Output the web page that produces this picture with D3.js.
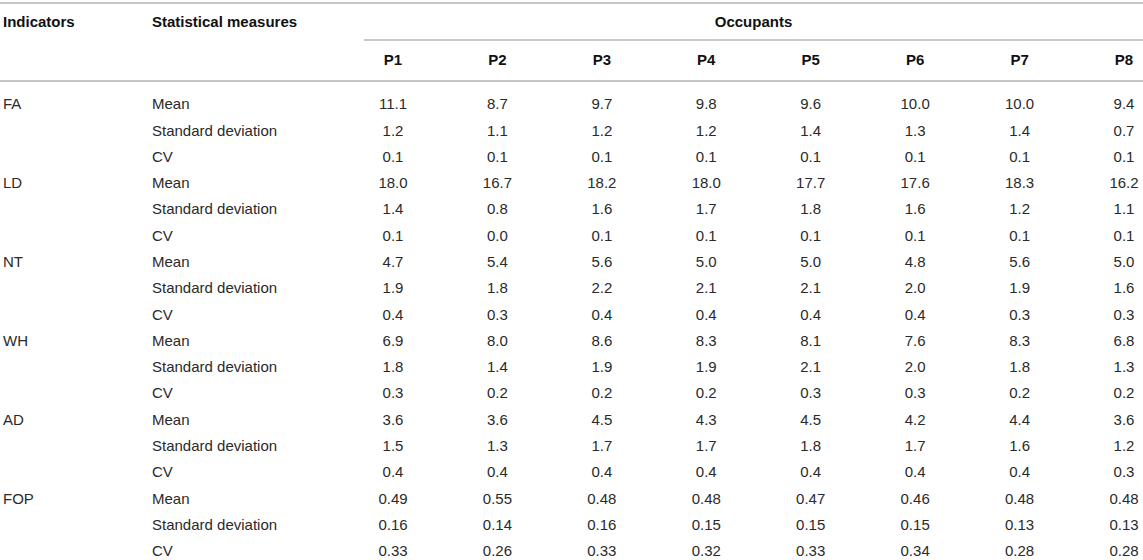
<!DOCTYPE html>
<html>
<head>
<meta charset="utf-8">
<script src="https://cdn.jsdelivr.net/npm/d3@7"></script>
<style>
  body { margin: 0; background: #fff; }
  svg text { font-family: "Liberation Sans", Arial, Helvetica, sans-serif; font-size: 15px; }
</style>
</head>
<body>
<svg id="chart" width="1143" height="560"></svg>
<script>
// table values
var occupants = ["P1", "P2", "P3", "P4", "P5", "P6", "P7", "P8"];
var indicators = ["FA", "LD", "NT", "WH", "AD", "FOP"];
var measures = ["Mean", "Standard deviation", "CV"];
var decimals = [1, 1, 1, 1, 1, 2];

var faValues = [
  [11.1, 8.7, 9.7, 9.8, 9.6, 10.0, 10.0, 9.4],
  [1.2, 1.1, 1.2, 1.2, 1.4, 1.3, 1.4, 0.7],
  [0.1, 0.1, 0.1, 0.1, 0.1, 0.1, 0.1, 0.1]
];
var ldValues = [
  [18.0, 16.7, 18.2, 18.0, 17.7, 17.6, 18.3, 16.2],
  [1.4, 0.8, 1.6, 1.7, 1.8, 1.6, 1.2, 1.1],
  [0.1, 0.0, 0.1, 0.1, 0.1, 0.1, 0.1, 0.1]
];
var ntValues = [
  [4.7, 5.4, 5.6, 5.0, 5.0, 4.8, 5.6, 5.0],
  [1.9, 1.8, 2.2, 2.1, 2.1, 2.0, 1.9, 1.6],
  [0.4, 0.3, 0.4, 0.4, 0.4, 0.4, 0.3, 0.3]
];
var whValues = [
  [6.9, 8.0, 8.6, 8.3, 8.1, 7.6, 8.3, 6.8],
  [1.8, 1.4, 1.9, 1.9, 2.1, 2.0, 1.8, 1.3],
  [0.3, 0.2, 0.2, 0.2, 0.3, 0.3, 0.2, 0.2]
];
var adValues = [
  [3.6, 3.6, 4.5, 4.3, 4.5, 4.2, 4.4, 3.6],
  [1.5, 1.3, 1.7, 1.7, 1.8, 1.7, 1.6, 1.2],
  [0.4, 0.4, 0.4, 0.4, 0.4, 0.4, 0.4, 0.3]
];
var fopValues = [
  [0.49, 0.55, 0.48, 0.48, 0.47, 0.46, 0.48, 0.48],
  [0.16, 0.14, 0.16, 0.15, 0.15, 0.15, 0.13, 0.13],
  [0.33, 0.26, 0.33, 0.32, 0.33, 0.34, 0.28, 0.28]
];
var allValues = [faValues, ldValues, ntValues, whValues, adValues, fopValues];

// flatten into rows
var rows = [];
indicators.forEach(function (ind, i) {
  measures.forEach(function (m, j) {
    rows.push({indicator: j === 0 ? ind : "", measure: m, values: allValues[i][j], dec: decimals[i]});
  });
});

var svg = d3.select("#chart");
var width = 1143;
var lineColor = "#b5b5b5";
var textColor = "#2a2a2a";

var x = d3.scalePoint().domain(occupants).range([393, 1124]);
var y = d3.scalePoint().domain(d3.range(rows.length)).range([104, 551]);

// rules
svg.append("line").attr("x1", 0).attr("x2", width).attr("y1", 3).attr("y2", 3)
  .style("stroke", lineColor).style("stroke-width", 1.6);
svg.append("line").attr("x1", 364).attr("x2", width).attr("y1", 40).attr("y2", 40)
  .style("stroke", lineColor).style("stroke-width", 1.4);
svg.append("line").attr("x1", 0).attr("x2", width).attr("y1", 81).attr("y2", 81)
  .style("stroke", lineColor).style("stroke-width", 1.6);

// header
var header = svg.append("g").style("font-weight", "bold").style("fill", "#111")
  .style("font-size", "15.5px");
header.append("text").attr("x", 3).attr("y", 22).attr("dy", "0.35em").text("Indicators");
header.append("text").attr("x", 152).attr("y", 22).attr("dy", "0.35em").text("Statistical measures");
header.append("text").attr("x", (364 + width) / 2).attr("y", 22).attr("dy", "0.35em")
  .style("text-anchor", "middle").text("Occupants");
header.selectAll("text.occ")
  .data(occupants)
  .enter().append("text")
  .attr("class", "occ")
  .attr("x", function (d) { return x(d); })
  .attr("y", 60)
  .attr("dy", "0.35em")
  .style("text-anchor", "middle")
  .text(function (d) { return d; });

// body
var body = svg.append("g").style("fill", textColor);
var rowG = body.selectAll("g.row")
  .data(rows)
  .enter().append("g")
  .attr("class", "row")
  .attr("transform", function (d, i) { return "translate(0," + y(i) + ")"; });

rowG.append("text").attr("x", 3).attr("dy", "0.35em").text(function (d) { return d.indicator; });
rowG.append("text").attr("x", 152).attr("dy", "0.35em").text(function (d) { return d.measure; });

rowG.selectAll("text.val")
  .data(function (d) {
    var fmt = d3.format("." + d.dec + "f");
    return d.values.map(function (v, k) { return {col: occupants[k], label: fmt(v)}; });
  })
  .enter().append("text")
  .attr("class", "val")
  .attr("x", function (d) { return x(d.col); })
  .attr("dy", "0.35em")
  .style("text-anchor", "middle")
  .text(function (d) { return d.label; });
</script>
</body>
</html>
